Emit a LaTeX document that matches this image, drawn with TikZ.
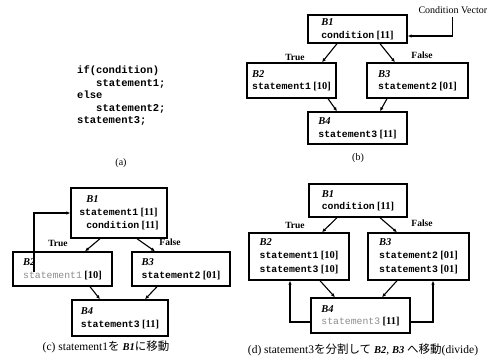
\documentclass[tikz,border=0pt]{standalone}
\usepackage{fontspec}
\setmainfont{Liberation Serif}
\setmonofont{Liberation Mono}
\newfontfamily\jpfont{Noto Sans CJK JP}
\usetikzlibrary{arrows.meta}
\newcommand{\blabel}[1]{{\fontsize{10.5}{12.5}\selectfont\textbf{\textit{#1}}}}
\newcommand{\stline}[2]{{\ttfamily\bfseries #1} {\fontsize{10.5}{12.5}\selectfont\textbf{[#2]}}}
\newcommand{\stmoved}[2]{{\color{black!45}\ttfamily #1} {\fontsize{10.5}{12.5}\selectfont\textbf{[#2]}}}

\begin{document}
\begin{tikzpicture}[x=1pt, y=-1pt]
    \tikzstyle{block} = [rectangle, draw, line width=1.4pt, align=left, inner xsep=3pt, inner ysep=2pt, font=\fontsize{9.8}{12.5}\selectfont]
    \tikzstyle{flow} = [-{Latex[length=4pt,width=3.5pt]}, line width=1.1pt]
    \tikzstyle{branch} = [font=\bfseries\fontsize{9.5}{11}\selectfont]
    \tikzstyle{caption} = [font=\fontsize{10}{12}\selectfont]
    \tikzstyle{jcaption} = [font=\fontsize{11.5}{13}\selectfont]

    \useasboundingbox (0,0) rectangle (497,359);

    % (a) source code
    \node[anchor=north west, inner sep=0pt, align=left, font=\ttfamily\bfseries\fontsize{10.5}{12.5}\selectfont] (code) at (77,66) {
        if(condition)\\
        \hspace*{19pt}statement1;\\
        else\\
        \hspace*{19pt}statement2;\\
        statement3;
    };
    \node[caption] (capa) at (121,163) {(a)};

    % (b) blocks with condition vector
    \node[block, minimum width=99pt, minimum height=28pt] (bb1) at (357.5,29) {\blabel{B1}\\ \stline{condition}{11}};
    \node[block, minimum width=89pt, minimum height=35pt] (bb2) at (291.5,80.5) {\blabel{B2}\\ \stline{statement1}{10}};
    \node[block, minimum width=101pt, minimum height=35pt] (bb3) at (417.5,80.5) {\blabel{B3}\\ \stline{statement2}{01}};
    \node[block, minimum width=99pt, minimum height=32pt] (bb4) at (357.5,128) {\blabel{B4}\\ \stline{statement3}{11}};
    \node[anchor=west, font=\fontsize{10}{12}\selectfont] (cv) at (415,10) {Condition Vector};
    \draw[flow] (cv.south) |- ([yshift=-7pt]bb1.east);
    \node[branch] (bt) at (295,57) {True};
    \node[branch] (bf) at (422,55) {False};
    \draw[flow] ([xshift=-20.5pt]bb1.south) -- ([xshift=30.5pt]bb2.north);
    \draw[flow] ([xshift=22.5pt]bb1.south) -- ([xshift=-22.5pt]bb3.north);
    \draw[flow] ([xshift=36.5pt]bb2.south) -- ([xshift=-20.5pt]bb4.north);
    \draw[flow] ([xshift=-30.5pt]bb3.south) -- ([xshift=22.5pt]bb4.north);
    \node[caption] (capb) at (358,158) {(b)};

    % (c) statement1 moved into B1
    \node[block, minimum width=96pt, minimum height=50pt] (cb1) at (119,213) {
        \hspace*{7pt}\blabel{B1}\\
        \stline{statement1}{11}\\[1pt]
        \hspace*{7pt}\stline{condition}{11}
    };
    \node[block, minimum width=99pt, minimum height=34pt] (cb2) at (62.5,269) {\blabel{B2}\\ \stmoved{statement1}{10}};
    \node[block, minimum width=98pt, minimum height=34pt] (cb3) at (181,269) {\blabel{B3}\\ \stline{statement2}{01}};
    \node[block, minimum width=96pt, minimum height=36pt] (cb4) at (120,318) {\blabel{B4}\\ \stline{statement3}{11}};
    \coordinate (cup) at (34,272);
    \draw[flow] (cup) |- (cb1.west);
    \node[branch] (ct) at (58,243) {True};
    \node[branch] (cf) at (170,242) {False};
    \draw[flow] ([xshift=-19pt]cb1.south) -- ([xshift=22.5pt]cb2.north);
    \draw[flow] ([xshift=18pt]cb1.south) -- ([xshift=-26pt]cb3.north);
    \draw[flow] ([xshift=27.5pt]cb2.south) -- ([xshift=-20pt]cb4.north);
    \draw[flow] ([xshift=-24pt]cb3.south) -- ([xshift=25pt]cb4.north);
    \node[jcaption] (capc) at (106,347) {(c) statement1{\jpfont を} \blabel{B1}{\jpfont に移動}};

    % (d) statement3 divided into B2, B3
    \node[block, minimum width=98pt, minimum height=33pt] (db1) at (358,200.5) {\blabel{B1}\\ \stline{condition}{11}};
    \node[block, minimum width=100pt, minimum height=47pt] (db2) at (299,256.5) {\blabel{B2}\\ \stline{statement1}{10}\\[2pt] \stline{statement3}{10}};
    \node[block, minimum width=101pt, minimum height=47pt] (db3) at (418.5,256.5) {\blabel{B3}\\ \stline{statement2}{01}\\[2pt] \stline{statement3}{01}};
    \node[block, minimum width=99pt, minimum height=35pt] (db4) at (360.5,315.5) {\blabel{B4}\\ \stmoved{statement3}{11}};
    \draw[flow] ([yshift=-6.5pt]db4.west) -| ([xshift=-9pt]db2.south);
    \draw[flow] ([yshift=-6.5pt]db4.east) -| ([xshift=14.5pt]db3.south);
    \node[branch] (dt) at (295,225) {True};
    \node[branch] (df) at (422,223) {False};
    \draw[flow] ([xshift=-21pt]db1.south) -- ([xshift=23pt]db2.north);
    \draw[flow] ([xshift=22pt]db1.south) -- ([xshift=-21.5pt]db3.north);
    \draw[flow] ([xshift=21pt]db2.south) -- ([xshift=-25.5pt]db4.north);
    \draw[flow] ([xshift=-21.5pt]db3.south) -- ([xshift=21.5pt]db4.north);
    \node[jcaption] (capd) at (363,350) {(d) statement3{\jpfont を分割して} \blabel{B2}, \blabel{B3} {\jpfont へ移動}(divide)};
\end{tikzpicture}
\end{document}
